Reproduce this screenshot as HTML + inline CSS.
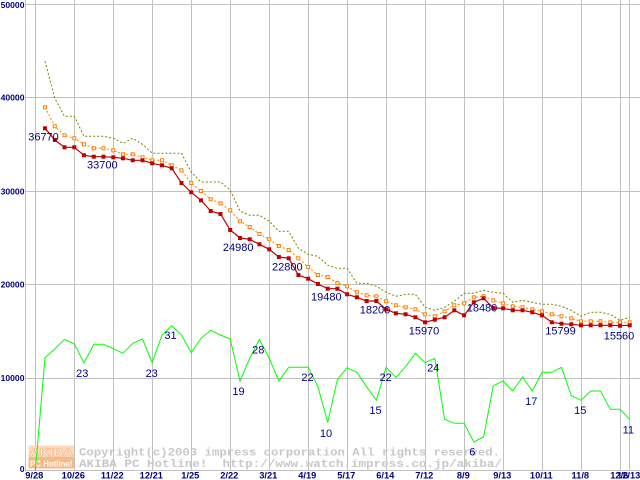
<!DOCTYPE html>
<html><head><meta charset="utf-8"><style>
html,body{margin:0;padding:0;background:#fff;}
body{width:640px;height:480px;overflow:hidden;}
svg{display:block;}
.yl{font-family:"Liberation Sans",sans-serif;font-weight:bold;font-size:8.6px;fill:#000080;text-anchor:end;}
.xl{font-family:"Liberation Sans",sans-serif;font-weight:bold;font-size:9.3px;fill:#000080;text-anchor:middle;}
.dl{font-family:"Liberation Sans",sans-serif;font-size:11px;fill:#000080;text-anchor:middle;}
.wm{font-family:"Liberation Mono",monospace;font-weight:bold;font-size:11px;fill:#c8c8c8;white-space:pre;}
</style></head><body>
<svg width="640" height="480" viewBox="0 0 640 480" xmlns="http://www.w3.org/2000/svg">
<defs>
<marker id="mr" markerWidth="6" markerHeight="6" refX="3" refY="3" markerUnits="userSpaceOnUse"><rect x="1" y="1" width="4" height="4" fill="#c00000"/></marker>
<marker id="mo" markerWidth="6" markerHeight="6" refX="3" refY="3" markerUnits="userSpaceOnUse"><rect x="1.5" y="1.5" width="3" height="3" fill="#fff" stroke="#ff8000" stroke-width="1"/></marker>
</defs>
<rect width="640" height="480" fill="#fff"/>
<!-- grid -->
<g stroke="#c0c0c0" stroke-width="1" fill="none">
<line x1="25" y1="4.5" x2="640" y2="4.5"/>
<line x1="25" y1="97.5" x2="640" y2="97.5"/>
<line x1="25" y1="191.5" x2="640" y2="191.5"/>
<line x1="25" y1="284.5" x2="640" y2="284.5"/>
<line x1="25" y1="378.5" x2="640" y2="378.5"/>
<line x1="25" y1="470.5" x2="640" y2="470.5"/>
<line x1="25.5" y1="0" x2="25.5" y2="471"/>
<line x1="35.5" y1="0" x2="35.5" y2="471"/>
<line x1="74.5" y1="0" x2="74.5" y2="471"/>
<line x1="113.5" y1="0" x2="113.5" y2="471"/>
<line x1="152.5" y1="0" x2="152.5" y2="471"/>
<line x1="191.5" y1="0" x2="191.5" y2="471"/>
<line x1="230.5" y1="0" x2="230.5" y2="471"/>
<line x1="269.5" y1="0" x2="269.5" y2="471"/>
<line x1="308.5" y1="0" x2="308.5" y2="471"/>
<line x1="347.5" y1="0" x2="347.5" y2="471"/>
<line x1="386.5" y1="0" x2="386.5" y2="471"/>
<line x1="425.5" y1="0" x2="425.5" y2="471"/>
<line x1="464.5" y1="0" x2="464.5" y2="471"/>
<line x1="503.5" y1="0" x2="503.5" y2="471"/>
<line x1="542.5" y1="0" x2="542.5" y2="471"/>
<line x1="581.5" y1="0" x2="581.5" y2="471"/>
<line x1="620.5" y1="0" x2="620.5" y2="471"/>
<line x1="629.5" y1="0" x2="629.5" y2="471"/>
</g>
<!-- watermark -->
<g>
<rect x="28.5" y="445.5" width="45.5" height="11.5" fill="#fdd9bc"/>
<rect x="28.5" y="457" width="45.5" height="11.5" fill="#f9b88a"/>
<text x="29.5" y="456" font-family="Liberation Sans,sans-serif" font-weight="bold" font-size="11px" fill="#fff" stroke="#f6b07c" stroke-width="0.6" textLength="43.5" lengthAdjust="spacingAndGlyphs">AKIBA</text>
<text x="30" y="466.5" font-family="Liberation Sans,sans-serif" font-weight="bold" font-size="8.5px" fill="#fff" textLength="42.5" lengthAdjust="spacingAndGlyphs">PC Hotline!</text>
<text class="wm" x="79" y="455.5" textLength="421" lengthAdjust="spacingAndGlyphs" xml:space="preserve">Copyright(c)2003 impress corporation All rights reserved.</text>
<text class="wm" x="79" y="467" textLength="423" lengthAdjust="spacingAndGlyphs" xml:space="preserve">AKIBA PC Hotline!  http://www.watch.impress.co.jp/akiba/</text>
</g>
<!-- y labels -->
<text class="yl" x="24.5" y="8">50000</text>
<text class="yl" x="24.5" y="100.5">40000</text>
<text class="yl" x="24.5" y="194.3">30000</text>
<text class="yl" x="24.5" y="287.6">20000</text>
<text class="yl" x="24.5" y="381">10000</text>
<text class="yl" x="24.5" y="472">0</text>
<!-- x labels -->
<g class="xl">
<text class="xl" x="34.3" y="478.5">9/28</text>
<text class="xl" x="73.3" y="478.5">10/26</text>
<text class="xl" x="112.3" y="478.5">11/22</text>
<text class="xl" x="151.3" y="478.5">12/21</text>
<text class="xl" x="190.3" y="478.5">1/25</text>
<text class="xl" x="229.3" y="478.5">2/22</text>
<text class="xl" x="268.3" y="478.5">3/21</text>
<text class="xl" x="307.3" y="478.5">4/19</text>
<text class="xl" x="346.3" y="478.5">5/17</text>
<text class="xl" x="385.3" y="478.5">6/14</text>
<text class="xl" x="424.3" y="478.5">7/12</text>
<text class="xl" x="463.3" y="478.5">8/9</text>
<text class="xl" x="502.3" y="478.5">9/13</text>
<text class="xl" x="541.3" y="478.5">10/11</text>
<text class="xl" x="580.3" y="478.5">11/8</text>
<text class="xl" x="619.3" y="478.5">12/6</text>
<text class="xl" x="628.7" y="478.5">12/13</text>
</g>
<!-- olive max -->
<polyline fill="none" stroke="#808000" stroke-width="1" stroke-dasharray="2 2" points="45.0,61.3 54.8,98.3 64.5,116.3 74.3,116.3 84.0,136.3 93.8,136.3 103.5,136.3 113.3,138.3 123.0,143.3 132.8,138.3 142.5,144.3 152.2,153.3 162.0,153.3 171.7,153.3 181.5,153.3 191.2,172.3 201.0,182 210.7,182 220.5,182 230.2,190 240.0,211 249.7,215.3 259.4,215.3 269.2,221.3 278.9,231.3 288.7,231.3 298.4,248.3 308.2,254.3 317.9,256.3 327.7,265.3 337.4,268.3 347.1,268.3 356.9,283.3 366.6,283.3 376.4,286.3 386.1,292.3 395.9,296.3 405.6,294.3 415.4,294.3 425.1,307.3 434.8,310.3 444.6,307.3 454.3,301.3 464.1,293.3 473.8,293.3 483.6,290.3 493.3,292.3 503.1,293.3 512.8,302.3 522.5,300.3 532.3,302.3 542.0,304.3 551.8,304.3 561.5,306.3 571.3,310.3 581.0,316.3 590.7,312.3 600.5,312.3 610.3,314.3 620.0,320.3 629.7,317.3"/>
<!-- orange avg -->
<polyline fill="none" stroke="#ff8000" stroke-width="1" stroke-dasharray="2 2" marker-start="url(#mo)" marker-mid="url(#mo)" marker-end="url(#mo)" points="45.0,107.3 54.8,126.3 64.5,135.3 74.3,138.3 84.0,144.3 93.8,148.3 103.5,148.3 113.3,150.3 123.0,154.3 132.8,154.3 142.5,157.3 152.2,160.3 162.0,160.3 171.7,165.3 181.5,170.3 191.2,183 201.0,191 210.7,199.3 220.5,203.3 230.2,210.3 240.0,221.3 249.7,227 259.4,234 269.2,239.3 278.9,246 288.7,250 298.4,258.3 308.2,267 317.9,275 327.7,277 337.4,283 347.1,286.3 356.9,292.3 366.6,295.3 376.4,296.3 386.1,301.3 395.9,305.3 405.6,307.3 415.4,309.3 425.1,314.3 434.8,316.3 444.6,311.3 454.3,305.3 464.1,303.3 473.8,297.3 483.6,296.3 493.3,300.3 503.1,303.3 512.8,306.3 522.5,307.3 532.3,309.3 542.0,311.3 551.8,314.3 561.5,316.3 571.3,318.3 581.0,321.3 590.7,321.3 600.5,321.3 610.3,322.3 620.0,322.3 629.7,322.3"/>
<!-- red min -->
<polyline fill="none" stroke="#c00000" stroke-width="1.2" marker-start="url(#mr)" marker-mid="url(#mr)" marker-end="url(#mr)" points="45.0,128.3 54.8,140 64.5,147.3 74.3,147.3 84.0,155.3 93.8,156.7 103.5,156.7 113.3,157.3 123.0,158.3 132.8,160.3 142.5,160.3 152.2,163.3 162.0,165.3 171.7,168.3 181.5,183 191.2,192.3 201.0,200.3 210.7,211 220.5,214 230.2,230 240.0,238 249.7,239.3 259.4,244.3 269.2,249.3 278.9,257 288.7,258.3 298.4,275 308.2,278.7 317.9,284 327.7,288.7 337.4,288.7 347.1,294.3 356.9,297.3 366.6,301 376.4,301 386.1,309.3 395.9,313.3 405.6,314.3 415.4,317.3 425.1,322.3 434.8,319.7 444.6,317.3 454.3,310.3 464.1,315.3 473.8,302.3 483.6,298.3 493.3,308 503.1,308.3 512.8,310.3 522.5,310.3 532.3,312.3 542.0,315.3 551.8,322.3 561.5,323.7 571.3,324.3 581.0,325.3 590.7,325.3 600.5,325.3 610.3,325.3 620.0,325.7 629.7,325.3"/>
<!-- green count -->
<polyline fill="none" stroke="#00ff00" stroke-width="1" points="35.3,471 45.0,357.7 54.8,349 64.5,339.3 74.3,344 84.0,362.7 93.8,344.3 103.5,344.3 113.3,348.7 123.0,353.3 132.8,343.3 142.5,339 152.2,362.7 162.0,335 171.7,325.7 181.5,335 191.2,352.7 201.0,338.3 210.7,330.3 220.5,335 230.2,339 240.0,381 249.7,358.3 259.4,339.3 269.2,358.3 278.9,381 288.7,367.3 298.4,367.3 308.2,367.3 317.9,386.7 327.7,422.3 337.4,379.5 347.1,367.7 356.9,372.3 366.6,386.7 376.4,400.3 386.1,367.3 395.9,377.3 405.6,366.7 415.4,353.3 425.1,362.7 434.8,358.3 444.6,419.3 454.3,423.3 464.1,423.3 473.8,442 483.6,437 493.3,385.7 503.1,381 512.8,391 522.5,377 532.3,391 542.0,372.3 551.8,372.3 561.5,367.3 571.3,395.7 581.0,400.3 590.7,391 600.5,391 610.3,409.3 620.0,409.3 629.7,419.3"/>
<!-- data labels -->
<text class="dl" x="43.5" y="140.7">36770</text>
<text class="dl" x="102.3" y="168.7">33700</text>
<text class="dl" x="238.2" y="251">24980</text>
<text class="dl" x="287.3" y="270.7">22800</text>
<text class="dl" x="326.3" y="300.7">19480</text>
<text class="dl" x="375" y="313.7">18200</text>
<text class="dl" x="424" y="334.3">15970</text>
<text class="dl" x="482" y="311.5">18480</text>
<text class="dl" x="560.5" y="334.5">15799</text>
<text class="dl" x="619" y="339.3">15560</text>
<text class="dl" x="82.3" y="377">23</text>
<text class="dl" x="151.7" y="377">23</text>
<text class="dl" x="170.5" y="339">31</text>
<text class="dl" x="238.5" y="395">19</text>
<text class="dl" x="258.3" y="353.3">28</text>
<text class="dl" x="307.5" y="381">22</text>
<text class="dl" x="326" y="437">10</text>
<text class="dl" x="375.5" y="414">15</text>
<text class="dl" x="385.7" y="381">22</text>
<text class="dl" x="433.3" y="371.7">24</text>
<text class="dl" x="472.3" y="455.7">6</text>
<text class="dl" x="531.3" y="405">17</text>
<text class="dl" x="580.3" y="414">15</text>
<text class="dl" x="628.3" y="433.3">11</text>
</svg>
</body></html>
